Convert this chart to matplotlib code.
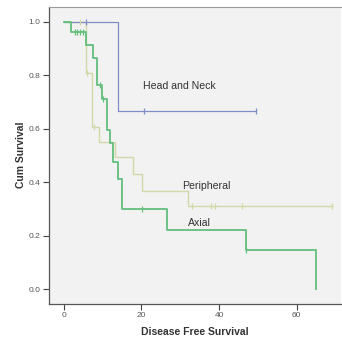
import numpy as np
import matplotlib
matplotlib.use("Agg")
import matplotlib.pyplot as plt

# ---- data ----
hn_times = [0, 13.9]
hn_surv = [1.0, 0.667]
hn_end = 49.5
hn_cens = [5.7, 20.8, 49.5]

per_times = [0, 5.7, 7.2, 9.1, 13.2, 17.9, 20.1, 32.1]
per_surv = [1.0, 0.81, 0.607, 0.551, 0.494, 0.432, 0.366, 0.313]
per_end = 69.0
per_cens = [4.2, 6.1, 7.9, 33.1, 37.9, 38.9, 45.8, 69.0]

ax_times = [0, 1.9, 5.7, 7.6, 8.7, 9.9, 11.1, 11.9, 12.8, 13.9, 14.9, 26.5, 46.9, 64.9]
ax_surv = [1.0, 0.963, 0.913, 0.865, 0.763, 0.713, 0.594, 0.545, 0.476, 0.413, 0.301, 0.22, 0.145, 0.0]
ax_end = 64.9
ax_cens = [2.9, 3.5, 4.2, 4.9, 9.3, 10.2, 20.1, 46.9]

xticks = [0, 20, 40, 60]
yticks = [0.0, 0.2, 0.4, 0.6, 0.8, 1.0]

plt.rcParams['font.family'] = ['Liberation Sans', 'DejaVu Sans']

fig = plt.figure(figsize=(3.42, 3.43), dpi=100)
ax = fig.add_axes([48.5/342, 1-304/343, (341-48.5)/342, (304-7)/343])
ax.set_facecolor('#F2F2F2')


def surv_at(times, surv, t):
    i = np.searchsorted(times, t, side='right') - 1
    return np.asarray(surv)[i]


def draw(times, surv, end, cens, color, lw):
    t = list(times) + [end]
    s = list(surv) + [surv[-1]]
    ax.step(t, s, where='post', color=color, lw=lw, zorder=3)
    cy = [surv_at(times, surv, c) for c in cens]
    ax.plot(cens, cy, ls='none', marker='|', ms=4, mew=0.9, color=color, zorder=4)


draw(per_times, per_surv, per_end, per_cens, '#D3D8A6', 1.0)
draw(hn_times, hn_surv, hn_end, hn_cens, '#7D8DC6', 0.9)
draw(ax_times, ax_surv, ax_end, ax_cens, '#62BF7C', 1.3)

ax.set_xlim(-3.9, 71.4)
ax.set_ylim(-0.055, 1.055)
ax.set_xticks(xticks)
ax.set_xticklabels([str(v) for v in xticks])
ax.set_yticks(yticks)
ax.set_yticklabels([f"{v:.1f}" for v in yticks])
ax.tick_params(axis='both', length=4, width=0.8, color='#444444', labelsize=6,
               labelcolor='#555555', pad=2)

for side in ['left', 'bottom']:
    ax.spines[side].set_color('#555555')
    ax.spines[side].set_linewidth(0.9)
ax.spines['top'].set_color('#999999')
ax.spines['top'].set_linewidth(0.8)
ax.spines['right'].set_visible(False)

ax.text(20.4, 0.76, 'Head and Neck', fontsize=7.6, color='#333333', va='center', ha='left')
ax.text(30.6, 0.387, 'Peripheral', fontsize=7.6, color='#333333', va='center', ha='left')
ax.text(32.1, 0.247, 'Axial', fontsize=7.6, color='#333333', va='center', ha='left')

fig.text(21/342, 1-155/343, 'Cum Survival', rotation=90, fontsize=7.5, fontweight='bold',
         color='#333333', ha='center', va='center')
fig.text(195/342, 1-332/343, 'Disease Free Survival', fontsize=7.5, fontweight='bold',
         color='#333333', ha='center', va='center')

fig.savefig('out.png', dpi=100, facecolor='white')
